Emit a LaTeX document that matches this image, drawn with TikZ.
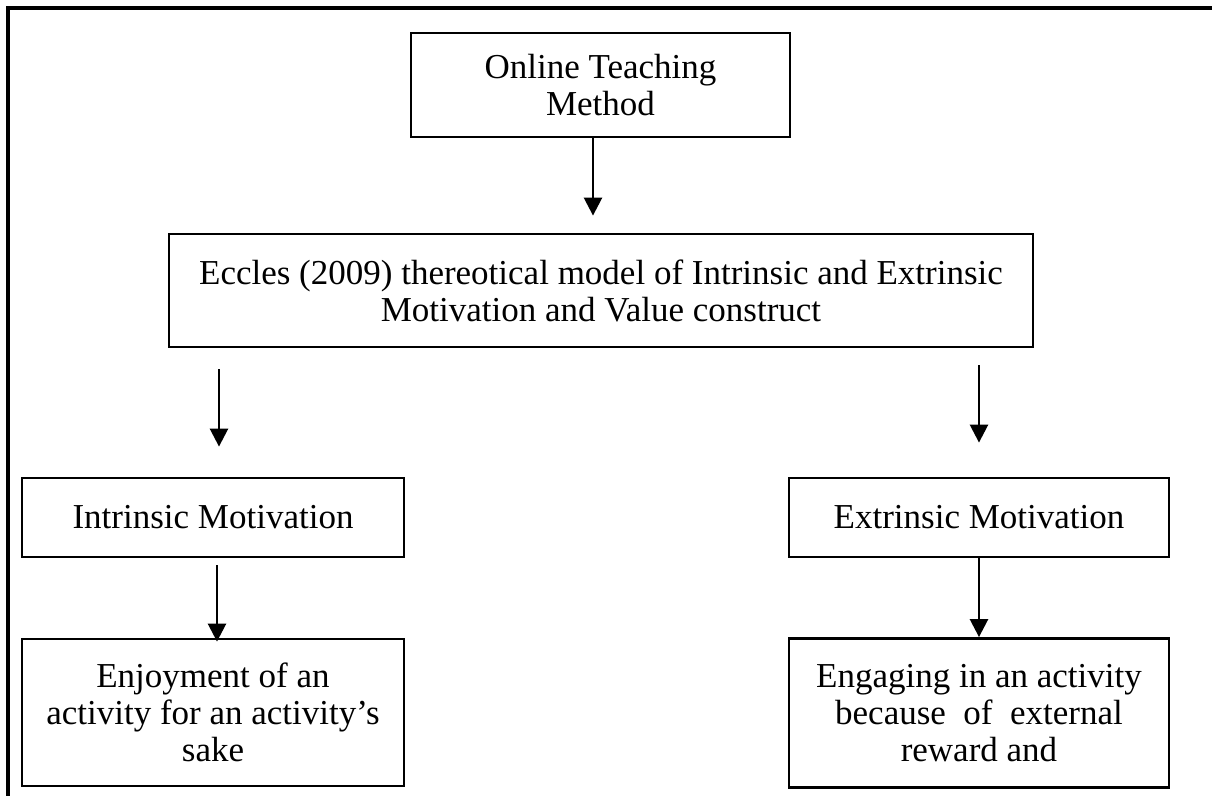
\documentclass[tikz,border=0pt]{standalone}
\usepackage{fontspec}
\setmainfont{Liberation Serif}
\usetikzlibrary{arrows.meta,calc}
\tikzset{
  box/.style={draw,line width=1.4pt,align=center,inner sep=0pt,font=\fontsize{17.5}{18.5}\selectfont},
  arr/.style={-{Triangle[width=9pt,length=9pt]},line width=1.3pt}
}
\begin{document}
\begin{tikzpicture}[x=0.5pt,y=-0.5pt]
  \useasboundingbox (0,0) rectangle (1212,796);
  \draw[line width=2pt] (8,796) -- (8,8) -- (1212,8);
  \node[box,minimum width=189.5pt,minimum height=52pt] (online) at (600.5,85) {Online Teaching\\Method};
  \node[box,minimum width=432pt,minimum height=56.5pt] (model) at (601,290.5) {Eccles (2009) thereotical model of Intrinsic and Extrinsic\\Motivation and Value construct};
  \node[box,minimum width=191pt,minimum height=39.5pt] (intrinsic) at (213,517.5) {Intrinsic Motivation};
  \node[box,minimum width=190pt,minimum height=39.5pt] (extrinsic) at (979,517.5) {Extrinsic Motivation};
  \node[box,minimum width=191pt,minimum height=73.5pt] (enjoy) at (213,712.5) {Enjoyment of an\\activity for an activity’s\\sake};
  \node[box,minimum width=190pt,minimum height=74.5pt] (engage) at (979,713) {Engaging in an activity\\because\ \ of\ \ external\\reward and};
  \draw[arr] ($(online.south)+(-7.5,0)$) -- ($(model.north)+(-8,-17)$);
  \draw[arr] ($(model.south -| intrinsic.north)+(6,21)$) -- ($(intrinsic.north)+(6,-30)$);
  \draw[arr] ($(model.south -| extrinsic.north)+(0,17)$) -- ($(extrinsic.north)+(0,-34)$);
  \draw[arr] ($(intrinsic.south)+(4,7)$) -- ($(enjoy.north)+(4,4)$);
  \draw[arr] (extrinsic.south) -- (engage.north);
\end{tikzpicture}
\end{document}
